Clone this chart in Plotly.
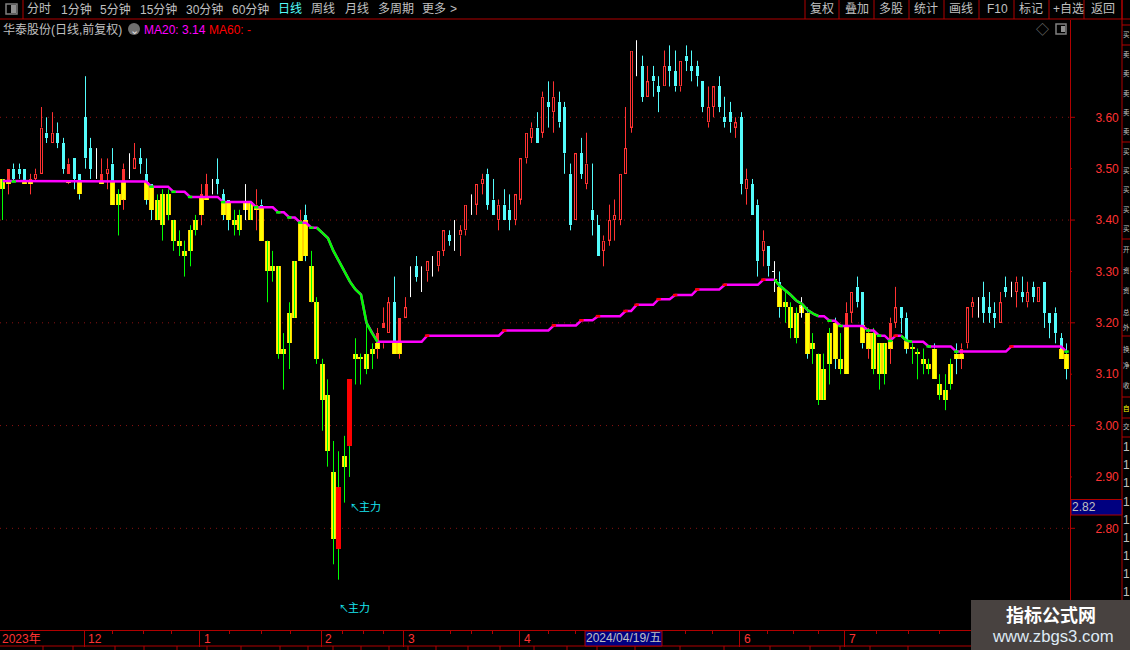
import math
import plotly.graph_objects as go

N = None
high = [3.48,3.50,3.51,3.51,3.50,3.49,3.50,3.62,3.60,3.61,
        3.59,3.56,3.52,3.52,3.49,3.68,3.56,3.54,3.52,3.52,
        3.54,3.46,3.51,3.53,3.55,3.54,3.52,3.47,3.45,3.46,
        3.46,3.40,3.38,3.36,3.39,3.41,3.47,3.49,3.48,3.52,
        3.46,3.44,3.42,3.42,3.47,3.435,3.46,3.44,3.36,3.34,
        3.31,3.18,3.24,3.32,3.42,3.43,3.34,3.25,3.13,3.09,
        2.97,2.95,2.98,3.09,3.17,3.14,3.20,3.16,3.19,3.23,
        3.25,3.29,3.21,3.25,3.31,3.33,3.31,3.32,3.33,3.34,
        3.38,3.38,3.40,3.39,3.43,3.45,3.47,3.49,3.50,3.48,
        3.44,3.46,3.45,3.45,3.52,3.57,3.59,3.61,3.65,3.67,
        3.67,3.65,3.63,3.51,3.53,3.56,3.57,3.51,3.41,3.37,
        3.43,3.44,3.49,3.62,3.73,3.75,3.72,3.70,3.70,3.68,
        3.73,3.74,3.73,3.71,3.74,3.73,3.71,3.67,3.66,3.66,
        3.68,3.64,3.63,3.60,3.61,3.50,3.48,3.44,3.38,3.35,
        3.32,3.30,3.265,3.24,3.23,3.25,3.23,3.18,3.14,3.14,
        3.19,3.21,3.18,3.24,3.26,3.29,3.26,3.19,3.19,3.16,
        3.16,3.21,3.27,3.23,3.22,3.16,3.15,3.15,3.13,3.16,
        3.10,3.10,3.13,3.16,3.16,3.23,3.25,3.25,3.28,3.26,
        3.24,3.26,3.29,3.28,3.29,3.29,3.28,3.28,3.27,3.28,
        3.22,3.23,3.18,3.16]
low = [3.40,3.45,3.475,3.48,3.47,3.45,3.475,3.49,3.55,3.55,
       3.54,3.49,3.47,3.46,3.44,3.50,3.48,3.48,3.47,3.46,
       3.43,3.37,3.42,3.48,3.50,3.49,3.43,3.40,3.40,3.36,
       3.40,3.34,3.33,3.29,3.31,3.37,3.39,3.44,3.45,3.45,
       3.40,3.38,3.37,3.37,3.40,3.40,3.38,3.36,3.24,3.28,
       3.13,3.07,3.11,3.21,3.32,3.32,3.24,3.12,2.99,2.92,
       2.73,2.70,2.85,2.90,3.08,3.08,3.10,3.11,3.13,3.15,
       3.18,3.14,3.13,3.21,3.25,3.28,3.26,3.28,3.29,3.30,
       3.33,3.35,3.34,3.33,3.37,3.41,3.41,3.45,3.42,3.41,
       3.38,3.40,3.38,3.39,3.43,3.51,3.55,3.55,3.56,3.58,
       3.57,3.58,3.49,3.38,3.40,3.48,3.46,3.37,3.33,3.31,
       3.35,3.36,3.39,3.49,3.57,3.68,3.63,3.64,3.64,3.61,
       3.66,3.66,3.65,3.65,3.69,3.67,3.66,3.61,3.58,3.60,
       3.61,3.58,3.57,3.56,3.45,3.43,3.41,3.29,3.31,3.29,
       3.26,3.21,3.20,3.17,3.16,3.21,3.13,3.12,3.04,3.05,
       3.08,3.11,3.10,3.10,3.20,3.23,3.15,3.13,3.10,3.07,
       3.08,3.12,3.19,3.18,3.14,3.12,3.09,3.10,3.10,3.09,
       3.05,3.03,3.07,3.10,3.11,3.15,3.21,3.21,3.20,3.20,
       3.19,3.20,3.25,3.25,3.23,3.24,3.23,3.24,3.24,3.19,
       3.17,3.16,3.13,3.09]
body_hi = [N,3.50,3.50,3.50,3.50,3.48,3.49,3.58,3.57,3.57,
           3.57,3.55,3.51,3.52,3.49,3.60,3.54,3.48,3.49,3.50,
           3.51,N,3.50,3.49,3.52,3.52,3.49,3.47,N,N,
           N,N,N,N,N,N,3.45,3.47,3.47,3.48,
           3.45,3.44,N,N,3.42,N,3.43,3.43,N,N,
           N,N,N,N,3.40,3.41,N,N,N,N,
           N,2.88,N,3.09,N,N,N,N,3.18,3.20,
           3.24,3.24,3.21,3.23,3.28,3.31,3.28,3.32,3.32,3.34,
           3.38,3.37,3.36,3.38,3.43,3.43,3.47,3.48,3.49,3.44,
           3.43,3.43,3.42,3.45,3.52,3.57,3.58,3.58,3.64,3.63,
           3.64,3.63,3.62,3.49,3.53,3.53,3.51,3.42,3.39,3.36,
           3.40,3.41,3.49,3.54,3.73,3.71,3.70,3.67,3.68,3.66,
           3.70,3.70,3.69,3.71,3.72,3.70,3.70,3.67,3.62,3.66,
           3.66,3.60,3.61,3.59,3.60,3.48,3.47,3.43,3.36,3.35,
           3.30,3.28,N,N,N,3.23,3.22,N,N,N,
           N,3.20,N,3.22,3.26,3.27,3.26,3.18,N,N,
           N,3.20,3.23,3.23,3.21,N,N,N,N,3.15,
           N,N,N,3.14,3.15,3.23,3.24,3.21,3.25,3.23,
           3.22,3.24,3.27,3.26,3.28,3.26,3.26,3.27,3.27,3.28,
           3.22,3.22,3.17,3.14]
body_lo = [N,3.47,3.48,3.49,3.47,3.47,3.48,3.49,3.56,3.55,
           3.55,3.50,3.49,3.48,3.45,3.52,3.50,3.48,3.47,3.49,
           3.43,N,3.44,3.49,3.50,3.51,3.44,3.42,N,N,
           N,N,N,N,N,N,3.41,3.44,3.47,3.47,
           3.41,3.40,N,N,3.42,N,3.42,3.36,N,N,
           N,N,N,N,3.39,3.40,N,N,N,N,
           N,2.76,N,2.96,N,N,N,N,3.16,3.19,
           3.18,3.14,3.14,3.21,3.28,3.29,3.28,3.30,3.32,3.31,
           3.34,3.36,3.36,3.37,3.38,3.43,3.43,3.47,3.43,3.41,
           3.40,3.40,3.40,3.40,3.44,3.52,3.56,3.55,3.57,3.62,
           3.61,3.59,3.53,3.39,3.40,3.49,3.47,3.40,3.33,3.34,
           3.36,3.40,3.40,3.49,3.58,3.71,3.64,3.64,3.67,3.65,
           3.66,3.69,3.66,3.66,3.71,3.69,3.68,3.62,3.59,3.62,
           3.62,3.59,3.59,3.58,3.47,3.46,3.41,3.32,3.34,3.31,
           3.30,3.23,N,N,N,3.23,3.14,N,N,N,
           N,3.13,N,3.195,3.22,3.24,3.16,3.15,N,N,
           N,3.165,3.20,3.21,3.15,N,N,N,N,3.09,
           N,N,N,3.13,3.14,3.16,3.23,3.21,3.22,3.22,
           3.21,3.20,3.26,3.26,3.26,3.25,3.24,3.25,3.24,3.22,
           3.20,3.18,3.13,3.11]
style = ["g","u","d","d","d","u","u","u","d","u",
         "d","d","u","d","d","d","d","w","u","u",
         "d","g","u","w","u","d","d","d","g","g",
         "g","g","g","g","g","g","u","u","w","d",
         "d","d","g","g","w","g","u","d","g","g",
         "g","g","g","g","u","d","g","g","g","g",
         "g","r","g","r","g","g","g","g","u","u",
         "u","d","u","u","w","d","w","u","w","u",
         "u","d","w","u","u","w","u","u","d","d",
         "u","d","d","u","u","u","u","d","u","d",
         "u","d","d","d","u","d","u","d","d","u",
         "u","u","u","u","u","w","d","u","d","d",
         "u","d","d","u","d","d","d","d","u","u",
         "d","d","d","u","d","u","d","d","u","d",
         "w","d","g","g","g","w","d","g","g","g",
         "g","d","g","u","u","d","d","u","g","g",
         "g","u","u","d","d","g","g","g","g","d",
         "g","g","g","d","u","u","u","w","d","d",
         "d","u","d","w","u","d","u","d","u","d",
         "d","d","d","d"]
yellow_idx = [0,1,4,5,12,14,18,20,21,22,26,27,28,29,30,31,32,33,34,35,36,37,40,41,42,43,44,45,46,47,
              48,49,50,51,52,53,54,55,56,57,58,59,60,62,64,65,66,67,68,69,71,72,
              140,141,142,143,144,145,146,147,148,149,150,151,152,153,156,157,158,159,160,161,164,
              165,166,167,168,169,170,171,172,173,174,192,193]
yellow_hi = [3.48,3.475,3.475,3.475,3.475,3.475,3.475,3.475,3.45,3.475,3.475,3.465,3.44,3.45,3.45,3.40,3.36,3.34,3.38,3.40,3.445,3.445,3.435,3.435,3.40,3.41,3.435,3.435,3.425,3.425,
             3.36,3.31,3.31,3.15,3.22,3.32,3.395,3.40,3.31,3.24,3.12,3.06,2.91,2.94,3.14,3.133,3.14,3.15,3.16,3.163,3.16,3.16,
             3.286,3.27,3.24,3.23,3.22,3.235,3.22,3.16,3.14,3.11,3.18,3.20,3.13,3.195,3.195,3.18,3.18,3.16,3.16,3.165,3.165,
             3.153,3.143,3.13,3.12,3.15,3.08,3.07,3.12,3.14,3.14,3.15,3.14]
yellow_lo = [3.46,3.47,3.47,3.47,3.472,3.45,3.47,3.43,3.43,3.44,3.44,3.42,3.40,3.39,3.41,3.36,3.35,3.33,3.34,3.38,3.41,3.44,3.41,3.40,3.39,3.38,3.42,3.40,3.42,3.36,
             3.30,3.30,3.14,3.14,3.16,3.21,3.32,3.33,3.24,3.13,3.05,2.95,2.78,2.92,3.13,3.13,3.11,3.14,3.15,3.16,3.14,3.14,
             3.283,3.23,3.23,3.19,3.17,3.22,3.14,3.15,3.05,3.05,3.12,3.13,3.11,3.10,3.16,3.15,3.11,3.10,3.10,3.15,3.15,
             3.15,3.14,3.12,3.11,3.09,3.06,3.05,3.08,3.13,3.13,3.13,3.11]
ma20 = [3.476,3.476,3.475,3.475,3.475,3.475,3.475,3.475,3.475,3.475,
        3.475,3.475,3.475,3.475,3.475,3.475,3.475,3.475,3.475,3.475,
        3.475,3.475,3.475,3.475,3.475,3.475,3.475,3.465,3.465,3.465,
        3.465,3.455,3.455,3.455,3.445,3.445,3.445,3.445,3.445,3.445,
        3.435,3.435,3.435,3.435,3.435,3.435,3.425,3.425,3.425,3.425,
        3.415,3.415,3.405,3.405,3.395,3.395,3.385,3.385,3.375,3.365,
        3.34,3.32,3.30,3.28,3.265,3.255,3.20,3.18,3.163,3.163,
        3.163,3.163,3.163,3.163,3.163,3.163,3.163,3.175,3.175,3.175,
        3.175,3.175,3.175,3.175,3.175,3.175,3.175,3.175,3.175,3.175,
        3.175,3.185,3.185,3.185,3.185,3.185,3.185,3.185,3.185,3.185,
        3.195,3.195,3.195,3.195,3.195,3.205,3.205,3.205,3.213,3.213,
        3.213,3.213,3.213,3.223,3.223,3.235,3.235,3.235,3.235,3.246,
        3.246,3.246,3.254,3.254,3.254,3.254,3.265,3.265,3.265,3.265,
        3.265,3.274,3.274,3.274,3.274,3.274,3.274,3.274,3.284,3.284,
        3.284,3.272,3.263,3.254,3.243,3.237,3.225,3.218,3.213,3.213,
        3.204,3.204,3.194,3.194,3.194,3.194,3.194,3.185,3.185,3.175,
        3.175,3.165,3.175,3.175,3.165,3.163,3.163,3.163,3.154,3.154,
        3.154,3.154,3.154,3.144,3.144,3.144,3.144,3.144,3.144,3.144,
        3.144,3.144,3.144,3.154,3.154,3.154,3.154,3.154,3.154,3.154,
        3.154,3.154,3.154,3.144]
price_ticks = [3.60,3.50,3.40,3.30,3.20,3.10,3.00,2.90,2.80]
month_idx = [15,36,58,73,94,134,153]
month_labels = ["12","1","2","3","4","6","7"]
minor_idx = [20,25.5,30.7,41.2,47,52.3,61.6,65.4,69,81.3,85,88.8,99,104,123.8,128.8,138.7,143.4,148,158.6,164.4,170]

X0, DX = 2.7, 5.512
PLOT_W, PLOT_TOP, PLOT_BOT = 1070, 20, 630
Y_LOW, Y_HIGH = 2.6021, 3.7894
RED = "#ff3232"; CYAN = "#54fcfc"; GREEN = "#00ff00"; LINE = "#b00000"
GRAY = "#c0c0c0"; FONT = "Liberation Sans, Noto Sans CJK SC, sans-serif"
ONE_PX = (Y_HIGH - Y_LOW) / (PLOT_BOT - PLOT_TOP)
px_w = lambda p: p / DX
snap = lambda n: (math.floor(X0 + DX * n) + 0.5 - X0) / DX   # centre of the candle's pixel column

ymap = dict(zip(yellow_idx, zip(yellow_hi, yellow_lo)))
fig = go.Figure()

def bars(idx, tops, bots, color, w, offset=None):
    fig.add_trace(go.Bar(x=idx, base=bots, y=[a - b for a, b in zip(tops, bots)],
                         width=px_w(w), offset=offset, hoverinfo="skip", showlegend=False,
                         marker=dict(color=color, line=dict(width=0))))

def vlines(pairs, color):
    xs, ys = [], []
    for n, top, bot in pairs:
        xs += [snap(n), snap(n), None]; ys += [top, bot, None]
    fig.add_trace(go.Scatter(x=xs, y=ys, mode="lines", line=dict(color=color, width=1),
                             hoverinfo="skip", showlegend=False, connectgaps=False))

def sel(k):
    ids = [i for i, s in enumerate(style) if s == k]
    return ids, [body_hi[i] for i in ids], [body_lo[i] for i in ids]

def wick_pairs(k):
    out = []
    for n, s in enumerate(style):
        if s != k:
            continue
        if k in "gw":
            out.append((n, high[n], low[n]))
        else:
            yh, yl = ymap.get(n, (body_hi[n], body_lo[n]))
            top, bot = max(body_hi[n], yh), min(body_lo[n], yl)
            if high[n] > top:
                out.append((n, high[n], top))
            if low[n] < bot:
                out.append((n, bot, low[n]))
    return out

i, t, b = sel("d"); bars(i, t, b, CYAN, 3)
i, t, b = sel("u"); bars(i, t, b, RED, 3)
hollow = [(n, u - ONE_PX, v + ONE_PX) for n, u, v in zip(i, t, b) if n not in ymap]
i, t, b = sel("r"); bars(i, t, b, "#ff0000", 5)
bars(yellow_idx, yellow_hi, yellow_lo, "#ffd400", 5)
bars(yellow_idx, yellow_hi, yellow_lo, "#ffff00", 3)
i, t, b = sel("w")
bars(i, t, [v - ONE_PX / 4 for v in t], "#ffffff", 2, offset=-px_w(2))
vlines(hollow, "#000000")
for k, col in [("u", RED), ("d", CYAN), ("w", "#ffffff"), ("g", GREEN), ("r", GREEN)]:
    vlines(wick_pairs(k), col)

# MA20
idx = list(range(len(ma20)))
fig.add_trace(go.Scatter(x=idx, y=ma20, mode="lines", line=dict(color="#ff00ff", width=2.5),
                         hoverinfo="skip", showlegend=False))
gx, gy, rx, ry = [], [], [], []
for n in range(1, len(ma20)):
    if ma20[n] < ma20[n - 1]:
        before = n >= 2 and ma20[n - 1] < ma20[n - 2]
        after = n + 1 < len(ma20) and ma20[n + 1] < ma20[n]
        if before or after:
            gx += [n - 1, n, None]; gy += [ma20[n - 1], ma20[n], None]
        else:
            gx += [n - 0.4, n + 0.4, None]; gy += [ma20[n], ma20[n], None]
    elif ma20[n] > ma20[n - 1]:
        rx += [n - 0.4, n + 0.4, None]; ry += [ma20[n], ma20[n], None]
fig.add_trace(go.Scatter(x=gx, y=gy, mode="lines", line=dict(color="#00ff00", width=2.5),
                         hoverinfo="skip", showlegend=False))
fig.add_trace(go.Scatter(x=rx, y=ry, mode="lines", line=dict(color="#ff0000", width=2.5),
                         hoverinfo="skip", showlegend=False))

# ---- page furniture, in page pixels
shapes, notes = [], []
def xp(p): return p / PLOT_W
def yp(p): return (PLOT_BOT - p) / (PLOT_BOT - PLOT_TOP)
def seg(x0, y0, x1, y1, color=LINE, width=1, dash=None):
    shapes.append(dict(type="line", xref="paper", yref="paper", x0=xp(x0), x1=xp(x1), y0=yp(y0), y1=yp(y1),
                       line=dict(color=color, width=width, dash=dash), layer="above"))
def box(x0, y0, x1, y1, fill, line=None):
    shapes.append(dict(type="rect", xref="paper", yref="paper", x0=xp(x0), x1=xp(x1), y0=yp(y0), y1=yp(y1),
                       fillcolor=fill, line=dict(color=line or fill, width=1 if line else 0), layer="above"))
def label(x, y, text, color=GRAY, size=12, anchor="left", bold=False):
    notes.append(dict(xref="paper", yref="paper", x=xp(x), y=yp(y), text=f"<b>{text}</b>" if bold else text,
                      showarrow=False, xanchor=anchor, yanchor="middle", borderpad=0, borderwidth=0,
                      font=dict(family=FONT, size=size, color=color)))

# top bar
seg(0, 19, 1130, 19)
seg(23, 0, 23, 19)
for sx in [805, 839, 874, 909, 944, 979, 1014, 1049, 1084, 1122]:
    seg(sx, 0, sx, 19)
tabs = [("分时",39),("1分钟",76),("5分钟",115),("15分钟",158),("30分钟",204),("60分钟",250),("日线",290),
        ("周线",323),("月线",357),("多周期",396),("更多",434),(">",453),
        ("复权",822),("叠加",857),("多股",891),("统计",926),("画线",961),("F10",997),("标记",1031),("+自选",1068),("返回",1103)]
for txt, cx in tabs:
    label(cx, 9.5, txt, CYAN if txt == "日线" else GRAY, 12, "center")
shapes.append(dict(type="rect", xref="paper", yref="paper", x0=xp(6), x1=xp(17), y0=yp(4), y1=yp(14),
                   line=dict(color="#808080", width=1.5), fillcolor="#000000", layer="above"))
box(11, 5, 16, 13, "#909090")
# header line
label(3, 29.5, "华泰股份(日线,前复权)", GRAY)
shapes.append(dict(type="circle", xref="paper", yref="paper", x0=xp(128), x1=xp(140), y0=yp(23), y1=yp(35),
                   fillcolor="#707070", line=dict(width=0), layer="above"))
label(134, 29.5, "⌄", "#e0e0e0", 11, "center")
label(144, 29.5, "MA20: 3.14", "#ff00ff")
label(209, 29.5, "MA60: -", "#ff0000")
label(1042, 29, "◇", "#777777", 13, "center")
shapes.append(dict(type="rect", xref="paper", yref="paper", x0=xp(1056), x1=xp(1066), y0=yp(24), y1=yp(34),
                   line=dict(color="#808080", width=1.5), fillcolor="#000000", layer="above"))
box(1061, 26, 1065, 32, "#909090")
# right column
seg(1122, 0, 1122, 650)
for ry_ in [25, 45, 142, 239, 336, 397, 418, 437]:
    seg(1122, ry_, 1130, ry_)
col_text = [(35,"买"),(55,"卖"),(74,"卖"),(94,"卖"),(113,"卖"),(132,"卖"),(152,"买"),(171,"买"),(190,"买"),(210,"买"),(229,"买"),
            (250,"开"),(270,"资"),(290,"资"),(312,"总"),(327,"外"),(350,"换"),(365,"净"),(385,"收"),(408,"自"),(427,"交")]
for ry_, ch in col_text:
    label(1123, ry_, ch, "#ffff00" if ch == "自" else GRAY, 6.5)
for ry_ in [447,465,483,502,520,538,556,574,592]:
    label(1123, ry_, "1", GRAY)
# price tag
box(1071, 499.5, 1122, 515, "#000080", LINE)
label(1072, 507, "2.82", GRAY)
# bottom strip
seg(0, 646, 971, 646)
for bx in [43,73,115,144,177,207,241,280,308,333,361,389,408,436,468,500,534,567,597,635,680,724,770,810,840,870,908]:
    seg(bx, 646, bx, 650)
label(2, 639, "2023年", RED)
for m, txt in zip(month_idx, month_labels):
    notes.append(dict(xref="x", yref="paper", x=m, y=yp(639), text=txt, showarrow=False, xanchor="left", xshift=1,
                      yanchor="middle", font=dict(family=FONT, size=12, color=RED)))
box(585, 631, 662, 646, "#000080", LINE)
label(586, 638, "2024/04/19/五", GRAY)
# 主力 marks
for mx, my in [(351, 507), (340, 608)]:
    label(mx - 1, my, "↖", "#19e6f0", 10)
    label(mx + 8, my, "主力", "#19e6f0", 11)
# grid and price ticks
for p in price_ticks:
    major = round(p * 100) % 20 == 0
    shapes.append(dict(type="line", xref="paper", yref="y", x0=1, x1=xp(1070 + (5 if major else 2)), y0=p, y1=p,
                       line=dict(color=LINE, width=1), layer="above"))
    if major:
        shapes.append(dict(type="line", xref="paper", yref="y", x0=0, x1=1, y0=p, y1=p, layer="below",
                           line=dict(color="#8a1212", width=1, dash="1px,5px")))
# watermark
box(971, 600, 1130, 650, "#484240")
label(1050.5, 615, "指标公式网", "#ffffff", 18, "center", True)
label(1053, 636, "www.zbgs3.com", "#dfeaf5", 16.7, "center")

fig.update_layout(
    width=1130, height=650, margin=dict(l=0, r=60, t=PLOT_TOP, b=650 - PLOT_BOT), autosize=False,
    paper_bgcolor="#000000", plot_bgcolor="#000000", barmode="overlay", bargap=0, showlegend=False,
    shapes=shapes, annotations=notes,
    xaxis=dict(range=[-X0 / DX, (PLOT_W - X0) / DX], showgrid=False, zeroline=False, showticklabels=False,
               tickmode="array", tickvals=[m - 0.25 for m in month_idx], ticks="outside", ticklen=16, tickwidth=1,
               tickcolor=LINE, showline=True, linecolor=LINE, linewidth=1,
               minor=dict(tickmode="array", tickvals=minor_idx, ticks="outside", ticklen=3, tickcolor=LINE, tickwidth=1)),
    yaxis=dict(range=[Y_LOW, Y_HIGH], side="right", showgrid=False, zeroline=False, showline=True, linecolor=LINE,
               linewidth=1, tickmode="array", tickvals=price_ticks, ticktext=[f"{p:.2f}" for p in price_ticks],
               ticks="", ticklabelstandoff=22, tickfont=dict(family=FONT, size=12, color=RED)),
    font=dict(family=FONT),
)
fig.write_html("out.html", config=dict(displayModeBar=False, staticPlot=True),
               post_script="document.body.style.margin='0';document.body.style.background='#000';document.body.style.overflow='hidden';")
